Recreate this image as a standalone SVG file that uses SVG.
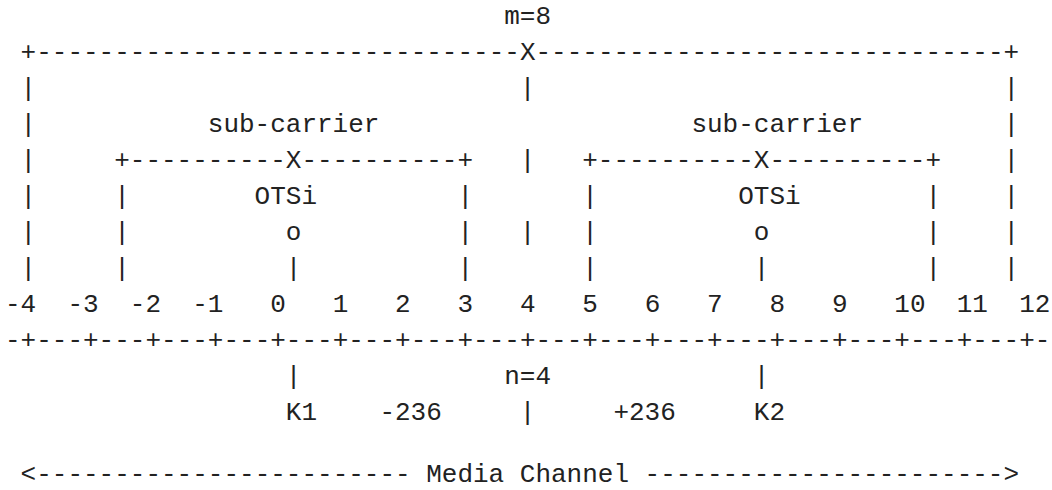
<svg xmlns="http://www.w3.org/2000/svg" width="1052" height="490" viewBox="0 0 1052 490">
<style>
text{font-family:"Liberation Mono","DejaVu Sans Mono",monospace;font-size:26px;fill:#222;white-space:pre}
</style>
<rect width="1052" height="490" fill="#fff"/>
<g id="media-channel">
<text x="504.2" y="23.7">m=8</text>
<text x="20.6" y="59.7">+-------------------------------X------------------------------+</text>
<text x="20.6" y="95.7">|</text><text x="519.8" y="95.7">|</text><text x="1003.4" y="95.7">|</text>
<text x="20.6" y="131.7">|</text><text x="1003.4" y="131.7">|</text>
<text x="20.6" y="167.7">|</text><text x="519.8" y="167.7">|</text><text x="1003.4" y="167.7">|</text>
<text x="20.6" y="203.7">|</text><text x="1003.4" y="203.7">|</text>
<text x="20.6" y="239.7">|</text><text x="519.8" y="239.7">|</text><text x="1003.4" y="239.7">|</text>
<text x="20.6" y="275.7">|</text><text x="1003.4" y="275.7">|</text>
</g>
<g id="sub-carrier-1">
<text x="207.8" y="131.7">sub-carrier</text>
<text x="114.2" y="167.7">+----------X----------+</text>
<text x="114.2" y="203.7">|</text><text x="254.6" y="203.7">OTSi</text><text x="457.4" y="203.7">|</text>
<text x="114.2" y="239.7">|</text><text x="285.8" y="239.7">o</text><text x="457.4" y="239.7">|</text>
<text x="114.2" y="275.7">|</text><text x="285.8" y="275.7">|</text><text x="457.4" y="275.7">|</text>
</g>
<g id="sub-carrier-2">
<text x="691.4" y="131.7">sub-carrier</text>
<text x="582.2" y="167.7">+----------X----------+</text>
<text x="582.2" y="203.7">|</text><text x="738.2" y="203.7">OTSi</text><text x="925.4" y="203.7">|</text>
<text x="582.2" y="239.7">|</text><text x="753.8" y="239.7">o</text><text x="925.4" y="239.7">|</text>
<text x="582.2" y="275.7">|</text><text x="753.8" y="275.7">|</text><text x="925.4" y="275.7">|</text>
</g>
<g id="grid">
<text x="5" y="311.7" xml:space="preserve">-4  -3  -2  -1   0   1   2   3   4   5   6   7   8   9   10  11  12</text>
<text x="5" y="347.7">-+---+---+---+---+---+---+---+---+---+---+---+---+---+---+---+---+-</text>
</g>
<g id="connectors">
<text x="285.8" y="383.7">|</text><text x="504.2" y="383.7">n=4</text><text x="753.8" y="383.7">|</text>
<text x="285.8" y="419.7">K1</text><text x="379.4" y="419.7">-236</text><text x="519.8" y="419.7">|</text><text x="613.4" y="419.7">+236</text><text x="753.8" y="419.7">K2</text>
<text x="20.6" y="482">&lt;------------------------</text><text x="426.2" y="482">Media Channel</text><text x="644.6" y="482">-----------------------&gt;</text>
</g>
</svg>
